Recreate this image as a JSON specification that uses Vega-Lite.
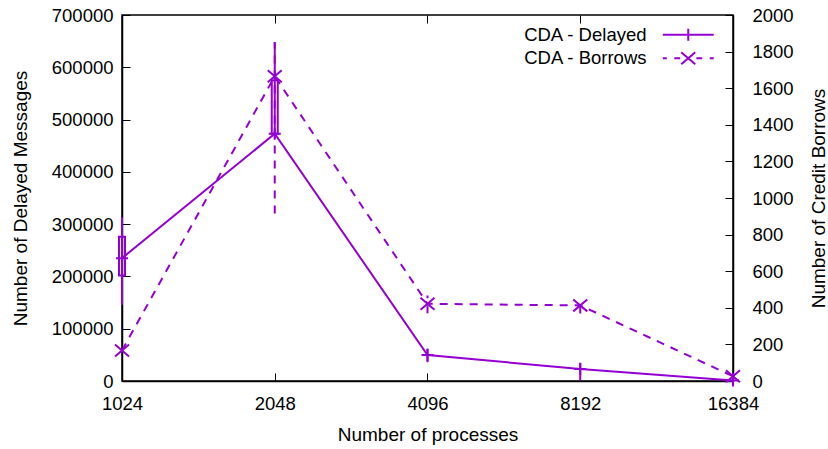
{
  "$schema": "https://vega.github.io/schema/vega-lite/v6.json",
  "width": 611,
  "height": 366,
  "autosize": {"type": "none"},
  "padding": {"left": 122, "top": 15, "right": 95, "bottom": 68},
  "background": "white",
  "data": {
    "values": [
      {"n": 1024, "s": "CDA - Delayed", "v": 235000, "lo": 146000, "hi": 313000, "q1": 202000, "q3": 276000},
      {"n": 2048, "s": "CDA - Delayed", "v": 473000, "lo": 472000, "hi": 648000, "q1": 473000, "q3": 575000},
      {"n": 4096, "s": "CDA - Delayed", "v": 49500, "lo": 36000, "hi": 62000},
      {"n": 8192, "s": "CDA - Delayed", "v": 23000, "lo": 1000, "hi": 35000},
      {"n": 16384, "s": "CDA - Delayed", "v": 1000, "lo": 0, "hi": 3000},
      {"n": 1024, "s": "CDA - Borrows", "v": 167, "lo": 167, "hi": 167},
      {"n": 2048, "s": "CDA - Borrows", "v": 1665, "lo": 915, "hi": 1852},
      {"n": 4096, "s": "CDA - Borrows", "v": 422, "lo": 370, "hi": 467},
      {"n": 8192, "s": "CDA - Borrows", "v": 413, "lo": 369, "hi": 451},
      {"n": 16384, "s": "CDA - Borrows", "v": 26, "lo": 0, "hi": 60}
    ]
  },
  "layer": [
    {
      "transform": [{"filter": "datum.s == 'CDA - Delayed'"}],
      "encoding": {
        "x": {
          "field": "n", "type": "quantitative",
          "scale": {"type": "log", "base": 2, "domain": [1024, 16384], "nice": false, "zero": false, "padding": 0},
          "axis": {"orient": "bottom", "values": [1024, 2048, 4096, 8192, 16384], "format": "d", "title": "Number of processes", "labelPadding": 21, "titlePadding": 13, "labelFlush": false}
        }
      },
      "layer": [
        {
          "mark": {"type": "rule", "color": "#9400d3", "strokeWidth": 2, "clip": false},
          "encoding": {
            "y": {"field": "lo", "type": "quantitative", "scale": {"domain": [0, 700000], "nice": false}, "axis": {"orient": "left", "title": "Number of Delayed Messages", "values": [0,100000,200000,300000,400000,500000,600000,700000], "format": "d", "labelPadding": 17, "titlePadding": 21}},
            "y2": {"field": "hi"}
          }
        },
        {
          "mark": {"type": "bar", "size": 6, "fill": "white", "fillOpacity": 0, "stroke": "#9400d3", "strokeWidth": 2, "clip": false},
          "encoding": {
            "y": {"field": "q1", "type": "quantitative", "scale": {"domain": [0, 700000], "nice": false}, "axis": {"orient": "left", "title": "Number of Delayed Messages", "values": [0,100000,200000,300000,400000,500000,600000,700000], "format": "d", "labelPadding": 17, "titlePadding": 21}},
            "y2": {"field": "q3"}
          }
        },
        {
          "mark": {"type": "line", "strokeWidth": 2},
          "encoding": {
            "y": {"field": "v", "type": "quantitative", "scale": {"domain": [0, 700000], "nice": false}, "axis": {"orient": "left", "title": "Number of Delayed Messages", "values": [0,100000,200000,300000,400000,500000,600000,700000], "format": "d", "labelPadding": 17, "titlePadding": 21}},
            "color": {
              "field": "s", "type": "nominal",
              "scale": {"domain": ["CDA - Delayed", "CDA - Borrows"], "range": ["#9400d3", "#9400d3"]},
              "legend": {
                "title": null, "orient": "none", "legendX": 557, "legendY": 10.5, "padding": 0,
                "labelAlign": "right", "labelOffset": -51, "symbolOffset": 0,
                "labelFont": "Liberation Sans", "labelFontSize": 18.5, "labelColor": "black",
                "symbolSize": 169, "symbolStrokeWidth": 2, "rowPadding": 2.5,
                "encode": {
                  "symbols": {
                    "update": {
                      "shape": {"signal": "datum.value == 'CDA - Delayed' ? 'M-3.92,0H3.92M0,-0.92V0.92' : 'M-3.92,0H-3.3M-2.15,0H-1.25M1.25,0H2.15M3.3,0H3.92M-1.08,-0.92L1.08,0.92M-1.08,0.92L1.08,-0.92'"},
                      "size": {"value": 169},
                      "stroke": {"value": "#9400d3"},
                      "strokeWidth": {"value": 2},
                      "strokeDash": {"value": [1, 0]},
                      "fill": {"value": "transparent"}
                    }
                  }
                }
              }
            }
          }
        },
        {
          "mark": {"type": "point", "shape": "M-1,0H1M0,-1V1", "size": 144, "filled": false, "color": "#9400d3", "strokeWidth": 2, "opacity": 1, "clip": false},
          "encoding": {
            "y": {"field": "v", "type": "quantitative", "scale": {"domain": [0, 700000], "nice": false}, "axis": {"orient": "left", "title": "Number of Delayed Messages", "values": [0,100000,200000,300000,400000,500000,600000,700000], "format": "d", "labelPadding": 17, "titlePadding": 21}}
          }
        }
      ]
    },
    {
      "transform": [{"filter": "datum.s == 'CDA - Borrows'"}],
      "encoding": {
        "x": {
          "field": "n", "type": "quantitative",
          "scale": {"type": "log", "base": 2, "domain": [1024, 16384], "nice": false, "zero": false, "padding": 0},
          "axis": {"orient": "top", "values": [1024, 2048, 4096, 8192, 16384], "labels": false, "title": null, "domain": false}
        }
      },
      "layer": [
        {
          "mark": {"type": "rule", "color": "#9400d3", "strokeWidth": 2, "strokeDash": [8, 7], "clip": false},
          "encoding": {
            "y": {"field": "lo", "type": "quantitative", "scale": {"domain": [0, 2000], "nice": false}, "axis": {"orient": "right", "title": "Number of Credit Borrows", "titleAngle": 270, "values": [0,200,400,600,800,1000,1200,1400,1600,1800,2000], "format": "d", "labelPadding": 27, "titlePadding": 35}},
            "y2": {"field": "hi"}
          }
        },
        {
          "mark": {"type": "line", "strokeWidth": 2, "strokeDash": [8, 7]},
          "encoding": {
            "y": {"field": "v", "type": "quantitative", "scale": {"domain": [0, 2000], "nice": false}, "axis": {"orient": "right", "title": "Number of Credit Borrows", "titleAngle": 270, "values": [0,200,400,600,800,1000,1200,1400,1600,1800,2000], "format": "d", "labelPadding": 27, "titlePadding": 35}},
            "color": {"field": "s", "type": "nominal", "scale": {"domain": ["CDA - Delayed", "CDA - Borrows"], "range": ["#9400d3", "#9400d3"]}}
          }
        },
        {
          "mark": {"type": "point", "shape": "M-1,-0.85L1,0.85M-1,0.85L1,-0.85", "size": 196, "filled": false, "color": "#9400d3", "strokeWidth": 2, "opacity": 1, "clip": false},
          "encoding": {
            "y": {"field": "v", "type": "quantitative", "scale": {"domain": [0, 2000], "nice": false}, "axis": {"orient": "right", "title": "Number of Credit Borrows", "titleAngle": 270, "values": [0,200,400,600,800,1000,1200,1400,1600,1800,2000], "format": "d", "labelPadding": 27, "titlePadding": 35}}
          }
        }
      ]
    }
  ],
  "resolve": {"scale": {"y": "independent"}, "axis": {"x": "independent", "y": "independent"}},
  "config": {
    "view": {"stroke": "black", "strokeWidth": 1.5},
    "font": "Liberation Sans",
    "axis": {
      "labelFont": "Liberation Sans", "titleFont": "Liberation Sans",
      "labelFontSize": 18.5, "titleFontSize": 19, "titleFontWeight": "normal",
      "labelColor": "black", "titleColor": "black",
      "domainColor": "black", "domainWidth": 1.5,
      "tickColor": "black", "tickWidth": 1, "tickSize": -8,
      "grid": false
    }
  }
}
